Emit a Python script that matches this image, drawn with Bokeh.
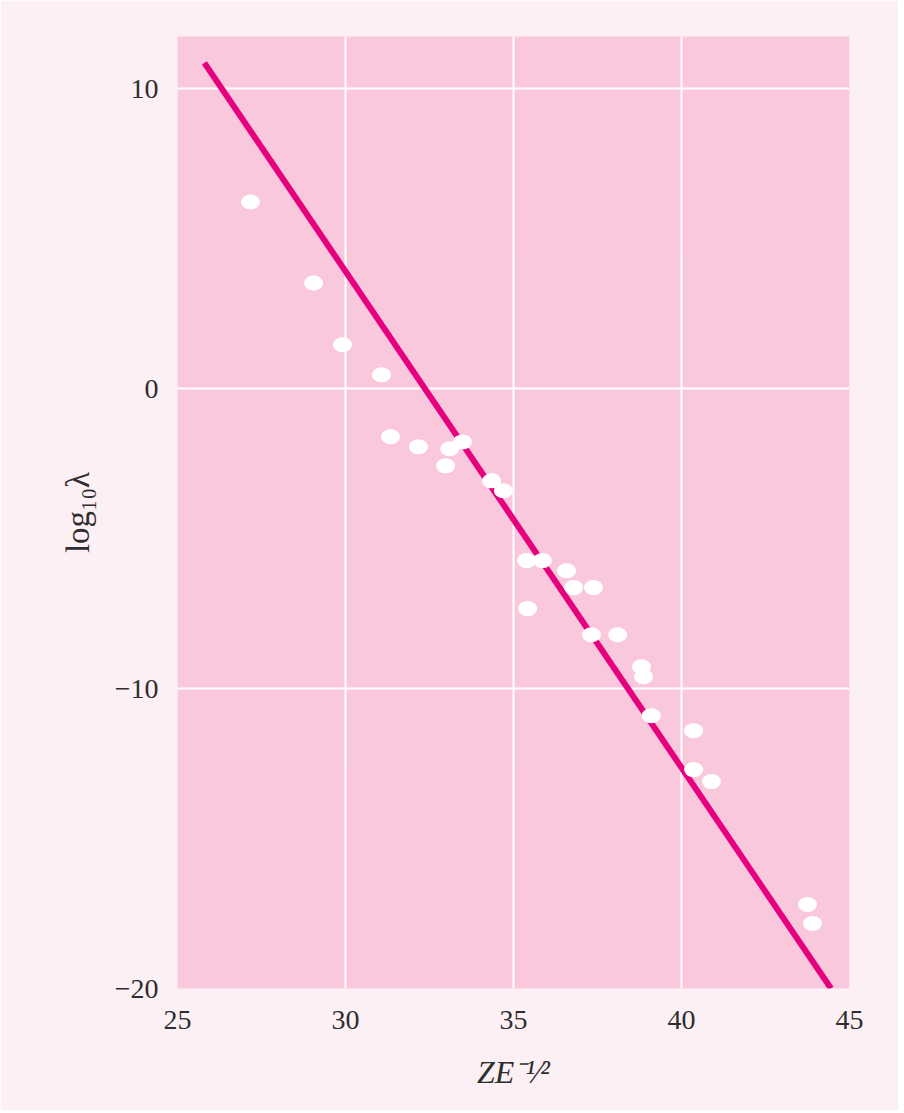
from bokeh.plotting import figure
from bokeh.models import FixedTicker, Range1d
from bokeh.embed import file_html
from bokeh.resources import INLINE

# Data
ze_values = [27.17, 29.05, 29.91, 31.07, 31.34, 32.17, 32.98, 33.10, 33.48, 34.35,
             34.70, 35.39, 35.86, 36.58, 36.79, 37.38, 35.42, 37.32, 38.10, 38.81,
             38.87, 39.10, 40.36, 40.36, 40.89, 43.75, 43.90]
log_lambda = [6.23, 3.53, 1.47, 0.47, -1.60, -1.93, -2.57, -2.00, -1.77, -3.07,
              -3.40, -5.73, -5.73, -6.07, -6.63, -6.63, -7.33, -8.20, -8.20, -9.27,
              -9.60, -10.90, -11.40, -12.70, -13.10, -17.20, -17.83]
fit_x = [25.80, 44.45]
fit_y = [10.87, -20.0]
x_ticks = [25, 30, 35, 40, 45]
y_ticks = [-20, -10, 0, 10]

SERIF = "Liberation Serif"
TXT = "#2e2e2e"

p = figure(frame_width=672, frame_height=952,
           x_range=Range1d(25, 45), y_range=Range1d(-20, 11.75),
           output_backend="svg", toolbar_location=None,
           min_border_left=177, min_border_top=36,
           min_border_right=49, min_border_bottom=122)

p.background_fill_color = "#f9c8dc"
p.border_fill_color = "#fdf0f5"
p.outline_line_color = None

p.xaxis.ticker = FixedTicker(ticks=x_ticks)
p.yaxis.ticker = FixedTicker(ticks=y_ticks)
p.xgrid.ticker = FixedTicker(ticks=[t for t in x_ticks if 25 < t < 45])
p.ygrid.ticker = FixedTicker(ticks=[t for t in y_ticks if t > -20])
p.grid.grid_line_color = "white"
p.grid.grid_line_width = 2

for ax in (p.xaxis[0], p.yaxis[0]):
    ax.axis_line_color = None
    ax.major_tick_line_color = None
    ax.minor_tick_line_color = None
    ax.major_label_text_font = SERIF
    ax.major_label_text_font_size = "28px"
    ax.major_label_text_color = TXT

p.yaxis.major_label_overrides = {-20: "\u221220", -10: "\u221210", 0: "0", 10: "10"}
p.yaxis.major_label_standoff = 13
p.xaxis.major_label_standoff = 16

p.yaxis.axis_label = "log\u2081\u2080\u03bb"
p.yaxis.axis_label_text_font = SERIF
p.yaxis.axis_label_text_font_style = "normal"
p.yaxis.axis_label_text_font_size = "33px"
p.yaxis.axis_label_text_color = TXT
p.yaxis.axis_label_standoff = 16

p.xaxis.axis_label = "ZE\u207b\u00b9\u2044\u00b2"
p.xaxis.axis_label_text_font = SERIF
p.xaxis.axis_label_text_font_style = "italic"
p.xaxis.axis_label_text_font_size = "32px"
p.xaxis.axis_label_text_color = TXT
p.xaxis.axis_label_standoff = 22

p.line(fit_x, fit_y, line_color="#e6007e", line_width=6, line_cap="butt")
p.ellipse(ze_values, log_lambda, width=19, height=15,
          width_units="screen", height_units="screen",
          fill_color="white", line_color=None)

open("out.html", "w").write(file_html(p, INLINE))
